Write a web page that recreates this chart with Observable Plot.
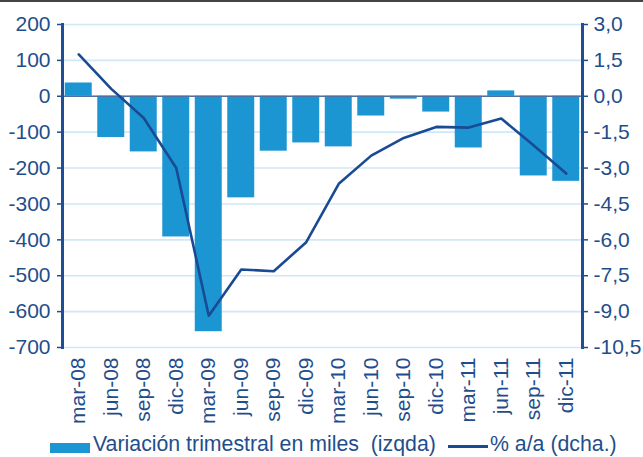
<!DOCTYPE html>
<html><head><meta charset="utf-8">
<script src="https://cdn.jsdelivr.net/npm/d3@7"></script>
<script src="https://cdn.jsdelivr.net/npm/@observablehq/plot@0.6"></script>
<style>
body{margin:0;background:#fff;font-family:"Liberation Sans",Arial,sans-serif;}
#wrap{position:relative;width:643px;height:457px;border-top:2px solid #444;box-sizing:border-box;}
#chart{position:absolute;left:0;top:-2px;}
.leg{position:absolute;color:#1f4e8c;font-size:21.3px;white-space:pre;line-height:21px;}
</style></head>
<body><div id="wrap"><div id="chart"></div>
<div class="leg" style="left:50px;top:441px;width:40px;height:10px;background:#1b96d3;"></div>
<div class="leg" style="left:93px;top:432px;">Variación trimestral en miles  (izqda)</div>
<div class="leg" style="left:448px;top:443px;width:40px;height:3px;background:#1a4a93"></div>
<div class="leg" style="left:490px;top:432px;">% a/a (dcha.)</div>
</div>
<script>
const categories = ["mar-08","jun-08","sep-08","dic-08","mar-09","jun-09","sep-09","dic-09","mar-10","jun-10","sep-10","dic-10","mar-11","jun-11","sep-11","dic-11"];
const variacion = [37, -115, -155, -392, -656, -283, -153, -130, -141, -55, -8, -44, -144, 15, -222, -237];
const pctAA = [1.75, 0.31, -0.91, -3.0, -9.17, -7.24, -7.31, -6.1, -3.66, -2.48, -1.74, -1.28, -1.31, -0.93, -2.06, -3.23];
const leftTicks = [200, 100, 0, -100, -200, -300, -400, -500, -600, -700];
const rightTicks = [3.0, 1.5, 0.0, -1.5, -3.0, -4.5, -6.0, -7.5, -9.0, -10.5];
const k = 200 / 3; // right axis (%) -> left axis units

const data = categories.map((c, i) => ({cat: c, v: variacion[i], p: pctAA[i]}));
const axisColor = "#1f4e96";
const fmtR = d => { const s = (d / k).toFixed(1).replace(".", ","); return s === "-0,0" ? "0,0" : s; };

const chart = Plot.plot({
  width: 643, height: 425,
  marginLeft: 62, marginRight: 61, marginTop: 24, marginBottom: 78,
  x: {domain: categories, paddingInner: 0.17, paddingOuter: 0.085, round: false, label: null},
  y: {domain: [-700, 200], label: null},
  style: {fontFamily: "Liberation Sans, Arial, sans-serif", fontSize: "21px", background: "transparent"},
  marks: [
    Plot.gridY(leftTicks, {stroke: "#cfe8f5", strokeOpacity: 1, strokeWidth: 1.6}),
    Plot.barY(data, {x: "cat", y: "v", fill: "#1b96d3"}),
    Plot.ruleY([0], {stroke: "#50709f", strokeWidth: 1.6}),
    Plot.lineY(data, {x: "cat", y: d => d.p * k, stroke: "#1a4a93", strokeWidth: 2.6}),
    Plot.axisY(leftTicks, {anchor: "left", tickFormat: d => String(d), fontSize: 21, tickSize: 5, tickPadding: 7, color: "#1f4e8c", strokeWidth: 1.5}),
    Plot.axisY(rightTicks.map(v => v * k), {anchor: "right", tickFormat: fmtR, fontSize: 21, tickSize: 5, tickPadding: 6, color: "#1f4e8c", strokeWidth: 1.5}),
    Plot.axisX({tickRotate: -90, tickSize: 0, tickPadding: 10, fontSize: 21, color: "#1f4e8c"}),
    Plot.frame({anchor: "left", stroke: axisColor, strokeWidth: 3}),
    Plot.frame({anchor: "right", stroke: axisColor, strokeWidth: 3})
  ]
});
document.getElementById("chart").appendChild(chart);
</script></body></html>
